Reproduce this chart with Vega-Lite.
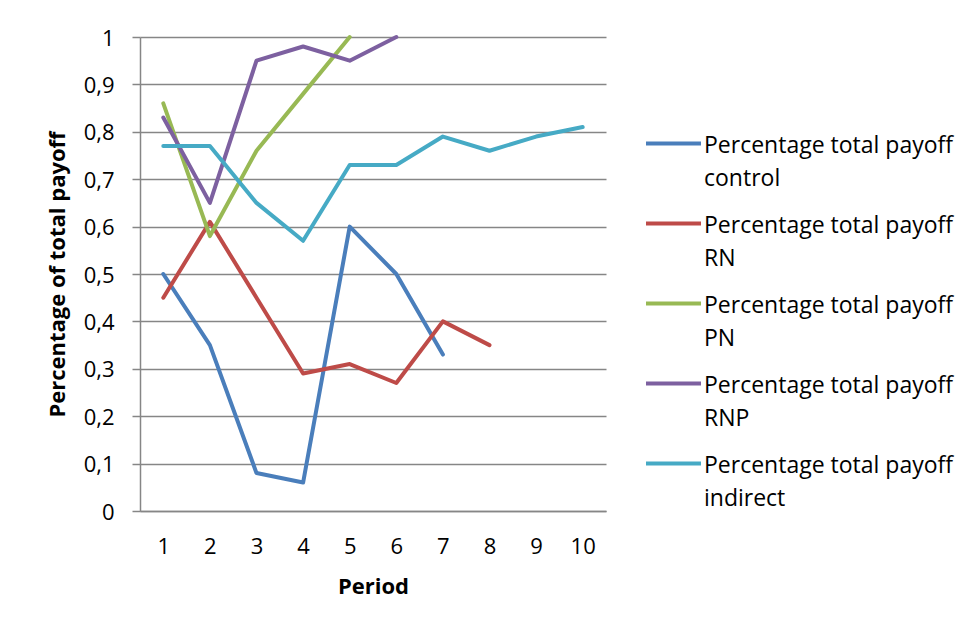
{
  "$schema": "https://vega.github.io/schema/vega-lite/v6.json",
  "autosize": {"type": "none"},
  "width": 466,
  "height": 474,
  "padding": {"left": 140, "top": 37, "right": 367, "bottom": 119},
  "background": "white",
  "config": {
    "font": "Open Sans",
    "view": {"stroke": null},
    "axis": {"labelFont": "Open Sans", "titleFont": "Open Sans", "labelColor": "#000000", "titleColor": "#000000"},
    "legend": {"labelFont": "Open Sans"}
  },
  "data": {
    "values": [
      {"Period": 1, "Series": "Percentage total payoff control", "Value": 0.50},
      {"Period": 2, "Series": "Percentage total payoff control", "Value": 0.35},
      {"Period": 3, "Series": "Percentage total payoff control", "Value": 0.08},
      {"Period": 4, "Series": "Percentage total payoff control", "Value": 0.06},
      {"Period": 5, "Series": "Percentage total payoff control", "Value": 0.60},
      {"Period": 6, "Series": "Percentage total payoff control", "Value": 0.50},
      {"Period": 7, "Series": "Percentage total payoff control", "Value": 0.33},
      {"Period": 1, "Series": "Percentage total payoff RN", "Value": 0.45},
      {"Period": 2, "Series": "Percentage total payoff RN", "Value": 0.61},
      {"Period": 3, "Series": "Percentage total payoff RN", "Value": 0.45},
      {"Period": 4, "Series": "Percentage total payoff RN", "Value": 0.29},
      {"Period": 5, "Series": "Percentage total payoff RN", "Value": 0.31},
      {"Period": 6, "Series": "Percentage total payoff RN", "Value": 0.27},
      {"Period": 7, "Series": "Percentage total payoff RN", "Value": 0.40},
      {"Period": 8, "Series": "Percentage total payoff RN", "Value": 0.35},
      {"Period": 1, "Series": "Percentage total payoff PN", "Value": 0.86},
      {"Period": 2, "Series": "Percentage total payoff PN", "Value": 0.58},
      {"Period": 3, "Series": "Percentage total payoff PN", "Value": 0.76},
      {"Period": 4, "Series": "Percentage total payoff PN", "Value": 0.88},
      {"Period": 5, "Series": "Percentage total payoff PN", "Value": 1.00},
      {"Period": 1, "Series": "Percentage total payoff RNP", "Value": 0.83},
      {"Period": 2, "Series": "Percentage total payoff RNP", "Value": 0.65},
      {"Period": 3, "Series": "Percentage total payoff RNP", "Value": 0.95},
      {"Period": 4, "Series": "Percentage total payoff RNP", "Value": 0.98},
      {"Period": 5, "Series": "Percentage total payoff RNP", "Value": 0.95},
      {"Period": 6, "Series": "Percentage total payoff RNP", "Value": 1.00},
      {"Period": 1, "Series": "Percentage total payoff indirect", "Value": 0.77},
      {"Period": 2, "Series": "Percentage total payoff indirect", "Value": 0.77},
      {"Period": 3, "Series": "Percentage total payoff indirect", "Value": 0.65},
      {"Period": 4, "Series": "Percentage total payoff indirect", "Value": 0.57},
      {"Period": 5, "Series": "Percentage total payoff indirect", "Value": 0.73},
      {"Period": 6, "Series": "Percentage total payoff indirect", "Value": 0.73},
      {"Period": 7, "Series": "Percentage total payoff indirect", "Value": 0.79},
      {"Period": 8, "Series": "Percentage total payoff indirect", "Value": 0.76},
      {"Period": 9, "Series": "Percentage total payoff indirect", "Value": 0.79},
      {"Period": 10, "Series": "Percentage total payoff indirect", "Value": 0.81}
    ]
  },
  "mark": {"type": "line", "strokeWidth": 4, "strokeCap": "round", "strokeJoin": "round"},
  "encoding": {
    "x": {
      "field": "Period",
      "type": "ordinal",
      "axis": {
        "title": "Period",
        "labelAngle": 0,
        "labelFontSize": 22,
        "labelPadding": 25,
        "ticks": false,
        "tickSize": 0,
        "domainColor": "#868686",
        "domainWidth": 1.5,
        "grid": false,
        "titleFontSize": 22,
        "titleFontWeight": "bold",
        "titlePadding": 19
      }
    },
    "y": {
      "field": "Value",
      "type": "quantitative",
      "scale": {"domain": [0, 1], "nice": false},
      "axis": {
        "title": "Percentage of total payoff",
        "values": [0, 0.1, 0.2, 0.3, 0.4, 0.5, 0.6, 0.7, 0.8, 0.9, 1],
        "labelExpr": "replace(format(datum.value, '.1~f'), '.', ',')",
        "labelFontSize": 22,
        "labelPadding": 18,
        "labelOffset": 1,
        "tickSize": 8,
        "tickColor": "#868686",
        "tickWidth": 1.5,
        "domainColor": "#868686",
        "domainWidth": 1.5,
        "grid": true,
        "gridColor": "#868686",
        "gridWidth": 1.5,
        "titleFontSize": 22,
        "titleFontWeight": "bold",
        "titlePadding": 14
      }
    },
    "color": {
      "field": "Series",
      "type": "nominal",
      "scale": {
        "domain": [
          "Percentage total payoff control",
          "Percentage total payoff RN",
          "Percentage total payoff PN",
          "Percentage total payoff RNP",
          "Percentage total payoff indirect"
        ],
        "range": ["#4A7EBB", "#BE4B48", "#98B954", "#7D60A0", "#46AAC5"]
      },
      "legend": {
        "title": null,
        "orient": "none",
        "legendX": 504,
        "legendY": 77,
        "padding": 0,
        "symbolType": "stroke",
        "symbolSize": 3025,
        "symbolStrokeWidth": 4,
        "labelFontSize": 23,
        "labelBaseline": "alphabetic",
        "labelOffset": 1,
        "labelLimit": 400,
        "rowPadding": 3,
        "labelExpr": "['Percentage total payoff', replace(datum.label, 'Percentage total payoff ', '')]",
        "encode": {
          "labels": {"update": {"lineHeight": {"value": 33}, "dy": {"value": 9}}}
        }
      }
    }
  }
}
